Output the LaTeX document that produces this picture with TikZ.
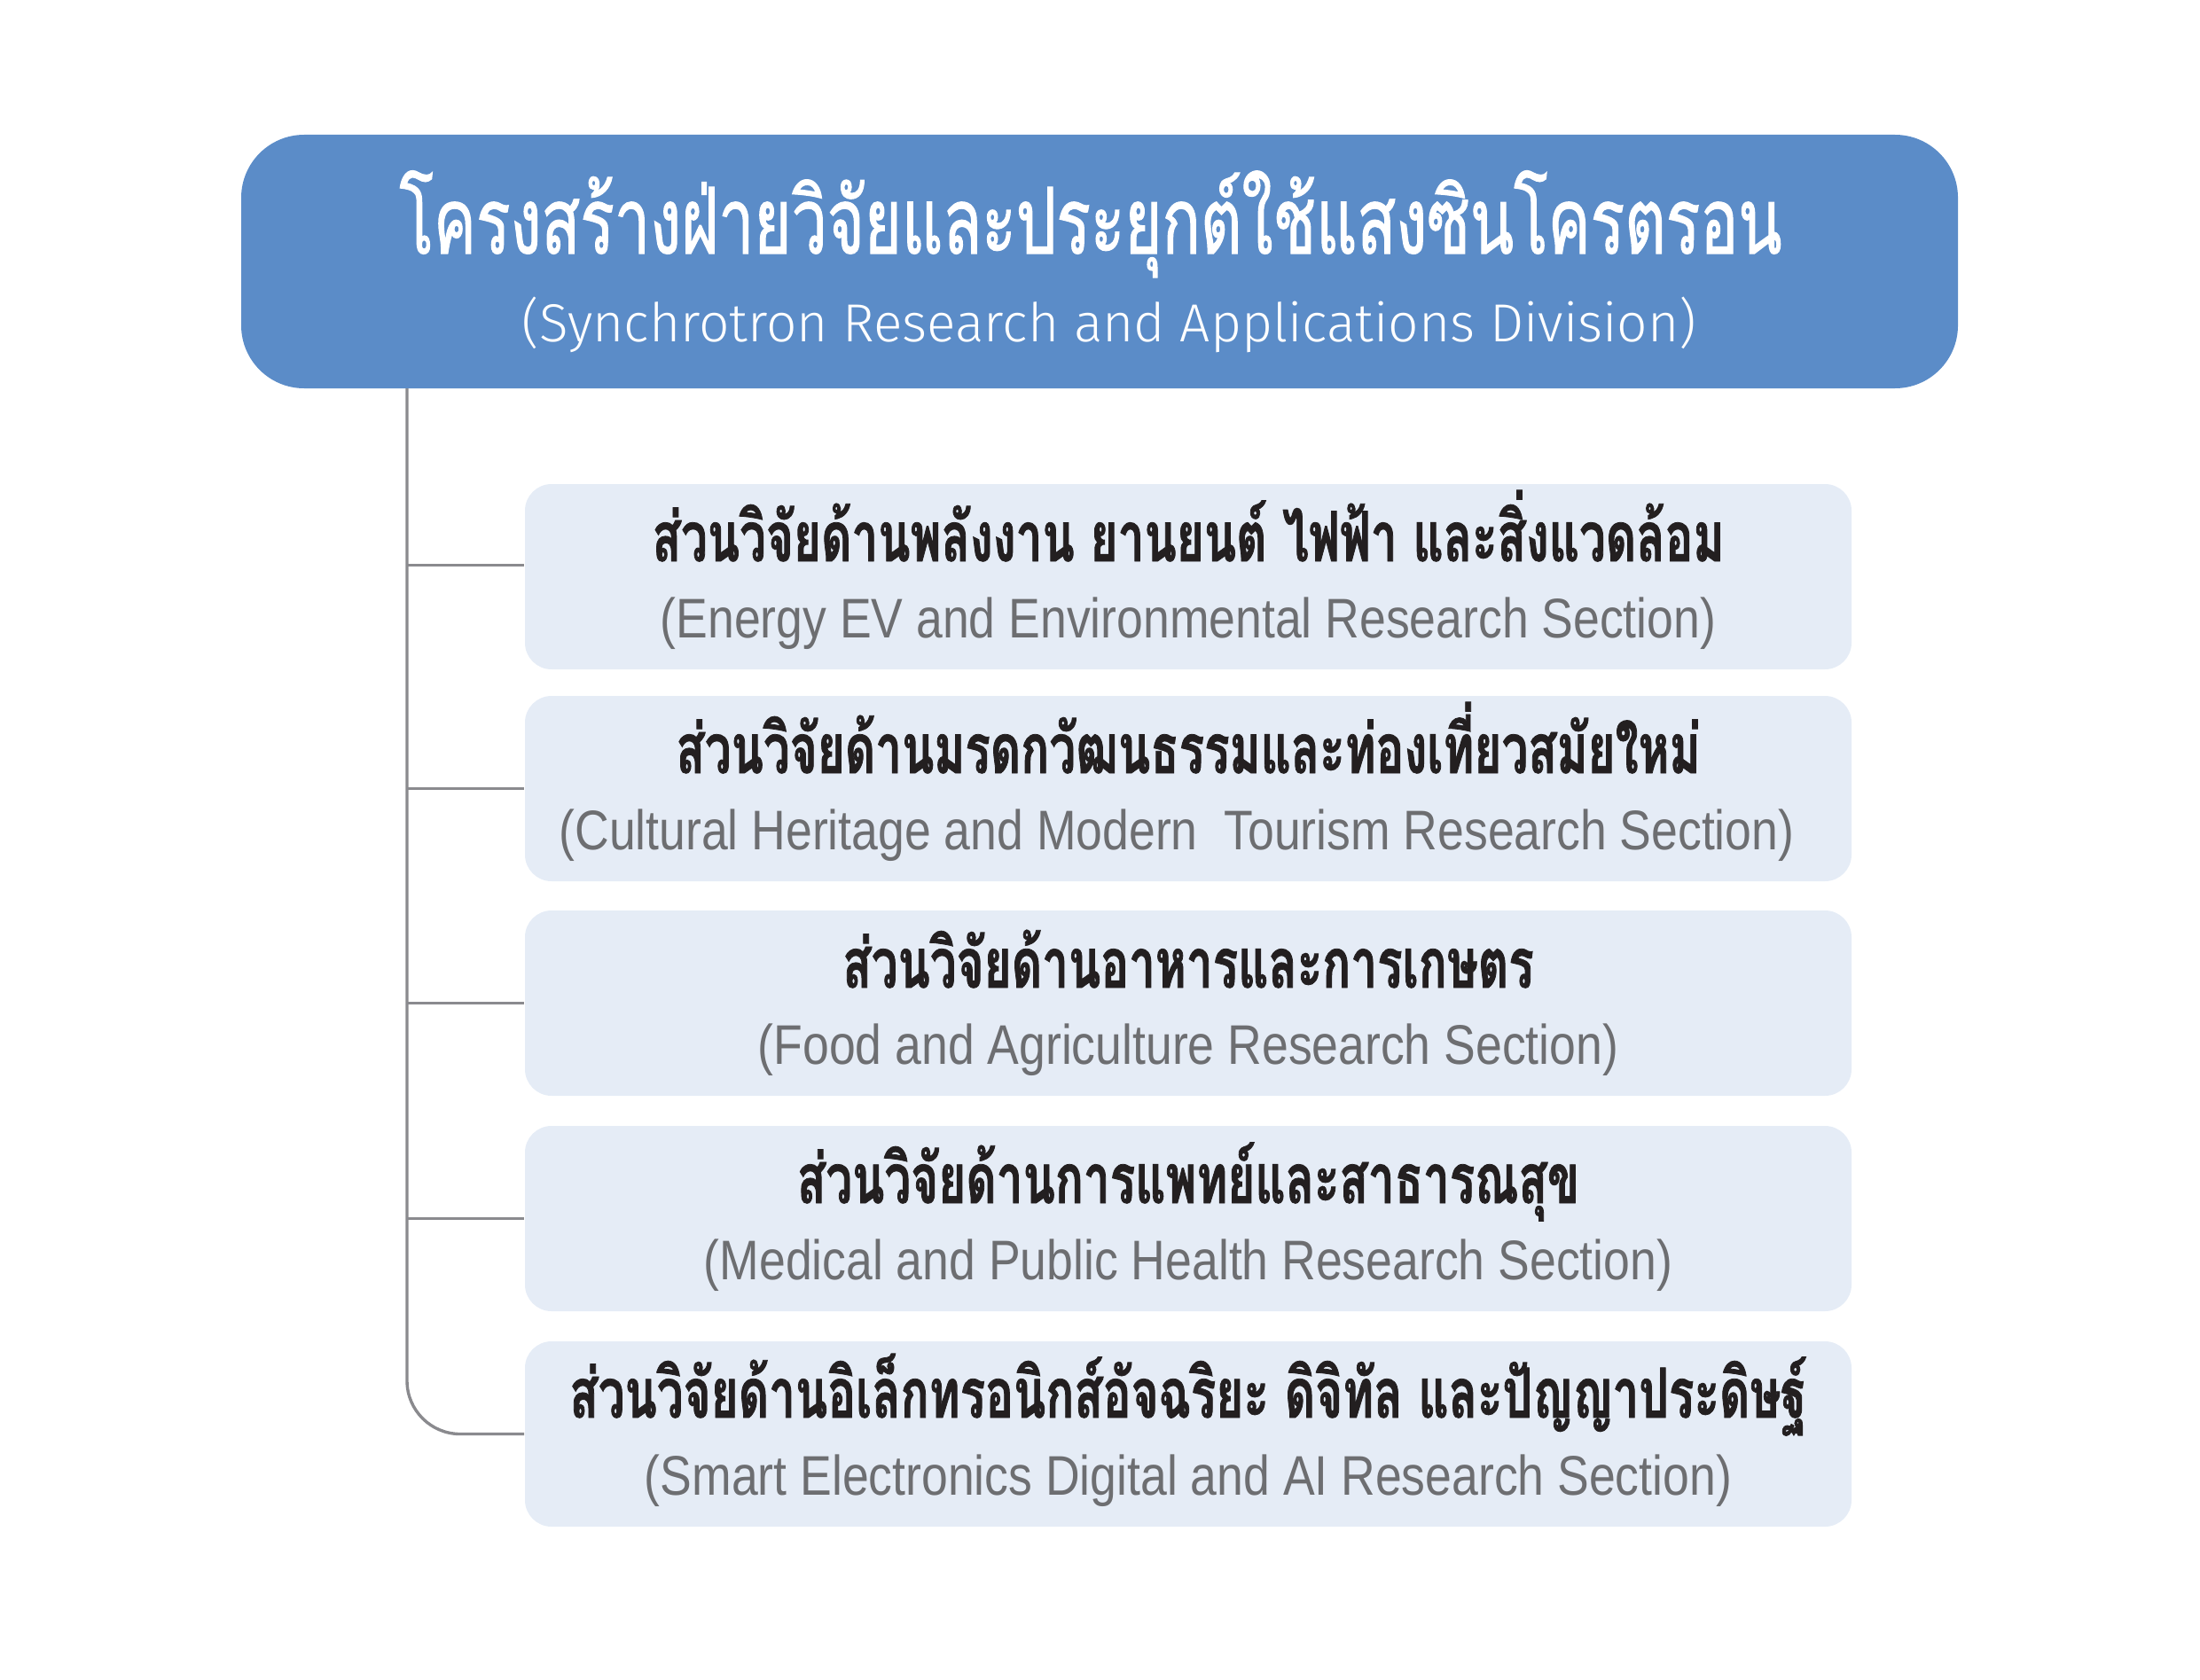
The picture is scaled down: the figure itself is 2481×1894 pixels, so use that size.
\documentclass[tikz,border=0pt]{standalone}
\usepackage{fontspec}
\newfontfamily\hdrthaifont[Script=Thai,FakeStretch=0.69,FakeBold=1]{Loma}
\newfontfamily\secthaifont[Script=Thai,FakeStretch=0.68,FakeBold=1]{Loma}
\newfontfamily\secengfont[FakeStretch=0.85]{Liberation Sans}
\IfFontExistsTF{Fira Sans Light}{\newfontfamily\hdrengfont{Fira Sans Light}}{\newfontfamily\hdrengfont{Open Sans}}
\definecolor{hdrblue}{RGB}{91,140,200}
\definecolor{secfill}{RGB}{229,236,246}
\definecolor{engray}{RGB}{109,110,113}
\definecolor{thaiblack}{RGB}{35,31,32}
\definecolor{linegray}{RGB}{138,138,142}
\begin{document}
\begin{tikzpicture}[x=0.25pt,y=-0.25pt,
  hdrbox/.style={fill=hdrblue, draw=none, rounded corners=17.75pt, minimum width=484pt, minimum height=71.5pt, inner sep=0pt},
  secbox/.style={fill=secfill, draw=none, rounded corners=7.5pt, minimum width=374pt, minimum height=52.25pt, inner sep=0pt},
  hdrthai/.style={anchor=base, inner sep=0pt, text=white, font=\hdrthaifont\fontsize{26pt}{26pt}\selectfont},
  hdreng/.style={anchor=base, inner sep=0pt, text=white, font=\hdrengfont\fontsize{15.1pt}{15.1pt}\selectfont},
  secthai/.style={anchor=base, inner sep=0pt, text=thaiblack, font=\secthaifont\bfseries\fontsize{19.5pt}{19.5pt}\selectfont},
  seceng/.style={anchor=base, inner sep=0pt, text=engray, font=\secengfont\fontsize{15.75pt}{15.75pt}\selectfont},
  conn/.style={draw=linegray, line width=0.85pt}
]
\useasboundingbox (0,0) rectangle (2481,1894);
% header
\node[hdrbox] (hdr) at (1240,295) {};
\node[hdrthai] (hdrt) at (1230,286) {โครงสร้างฝ่ายวิจัยและประยุกต์ใช้แสงซินโครตรอน};
\node[hdreng] (hdre) at (1251,385) {(Synchrotron Research and Applications Division)};
% section boxes
\node[secbox] (b1) at (1340,650.5) {};
\node[secbox] (b2) at (1340,889.5) {};
\node[secbox] (b3) at (1340,1131.5) {};
\node[secbox] (b4) at (1340,1374.5) {};
\node[secbox] (b5) at (1340,1617.5) {};
% texts
\node[secthai] (b1t) at (1340,633) {ส่วนวิจัยด้านพลังงาน ยานยนต์ ไฟฟ้า และสิ่งแวดล้อม};
\node[seceng] (b1e) at (1340,719) {(Energy EV and Environmental Research Section)};
\node[secthai] (b2t) at (1340,872) {ส่วนวิจัยด้านมรดกวัฒนธรรมและท่องเที่ยวสมัยใหม่};
\node[seceng] (b2e) at (1327,958) {(Cultural Heritage and Modern\ \ Tourism Research Section)};
\node[secthai] (b3t) at (1340,1114) {ส่วนวิจัยด้านอาหารและการเกษตร};
\node[seceng] (b3e) at (1340,1200) {(Food and Agriculture Research Section)};
\node[secthai] (b4t) at (1340,1357) {ส่วนวิจัยด้านการแพทย์และสาธารณสุข};
\node[seceng] (b4e) at (1340,1443) {(Medical and Public Health Research Section)};
\node[secthai] (b5t) at (1340,1599) {ส่วนวิจัยด้านอิเล็กทรอนิกส์อัจฉริยะ ดิจิทัล และปัญญาประดิษฐ์};
\node[seceng] (b5e) at (1340,1686) {(Smart Electronics Digital and AI Research Section)};
% connectors
\coordinate (trunk) at (459,438);
\draw[conn, rounded corners=15pt] (trunk) |- (b5.west);
\draw[conn] ([yshift=3.25pt]b1.west -| trunk) -- ([yshift=3.25pt]b1.west);
\draw[conn] (b2.west -| trunk) -- (b2.west);
\draw[conn] (b3.west -| trunk) -- (b3.west);
\draw[conn] (b4.west -| trunk) -- (b4.west);
\end{tikzpicture}
\end{document}
